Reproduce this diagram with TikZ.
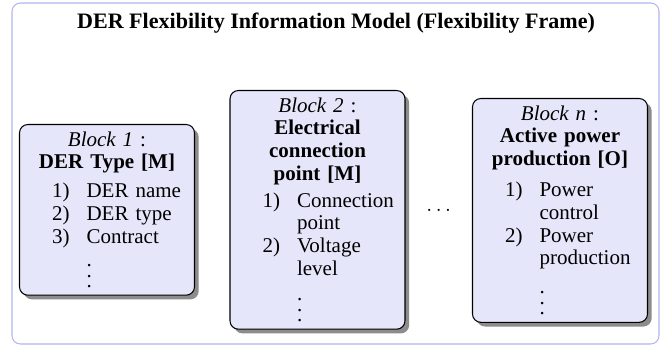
\documentclass[tikz,border=0pt]{standalone}
\usepackage{fontspec}
\setmainfont{Liberation Serif}
\usepackage{tikz}
\usetikzlibrary{positioning,calc,shadows}

\definecolor{blockFill}{RGB}{230,230,250}
\definecolor{frameBlue}{RGB}{180,180,240}

% one list entry inside a block: label column, then the text
\newcommand{\blkitem}[2]{\makebox[\linewidth][l]{\makebox[20.5pt][r]{#1}\hspace{8pt}#2}}
% vertical dots, a bit more open than \vdots
\newcommand{\blkdots}{\vbox{\baselineskip=5pt\lineskiplimit=0pt\kern4pt\hbox{.}\hbox{.}\hbox{.}}}

\tikzset{
    blockbox/.style={draw=black,line width=0.5pt,fill=blockFill,rounded corners=4pt,
        text width=76.5pt,inner sep=3.4pt,align=center,anchor=north,
        font=\fontsize{10}{10.8}\selectfont,
        drop shadow={shadow xshift=2pt,shadow yshift=-2pt,fill=black!45,opacity=1}},
    framebox/.style={draw=frameBlue,line width=0.5pt,rounded corners=4pt}
}

\begin{document}
\begin{tikzpicture}[x=0.476pt,y=-0.476pt]
    \useasboundingbox (0,0) rectangle (672,347);

    % outer frame and title
    \draw[framebox] (12,3) rectangle (659,344);
    \node[font=\fontsize{10.5}{12}\selectfont\bfseries] (title) at (336,23)
        {DER Flexibility Information Model (Flexibility Frame)};

    % blocks
    \node[blockbox] (blk1) at (107,124) {
        \textit{Block 1} :\\
        \textbf{DER Type [M]}\\[3pt]
        \blkitem{1)}{DER name}\\
        \blkitem{2)}{DER type}\\
        \blkitem{3)}{Contract}\\[3pt]
        \blkitem{}{\blkdots}
    };
    \node[blockbox] (blk2) at (317.5,90) {
        \textit{Block 2} :\\
        \textbf{Electrical}\\
        \textbf{connection}\\
        \textbf{point [M]}\\[2pt]
        \blkitem{1)}{Connection}\\
        \blkitem{}{point}\\
        \blkitem{2)}{Voltage}\\
        \blkitem{}{level}\\[6pt]
        \blkitem{}{\blkdots}
    };
    \node[blockbox] (blkn) at (560,98) {
        \textit{Block n} :\\
        \textbf{Active power}\\
        \textbf{production [O]}\\[4pt]
        \blkitem{1)}{Power}\\
        \blkitem{}{control}\\
        \blkitem{2)}{Power}\\
        \blkitem{}{production}\\[5.7pt]
        \blkitem{}{\blkdots}
    };

    \node (more) at ($(blk2.east)!0.5!(blkn.west)$) {$\dots$};
\end{tikzpicture}
\end{document}
